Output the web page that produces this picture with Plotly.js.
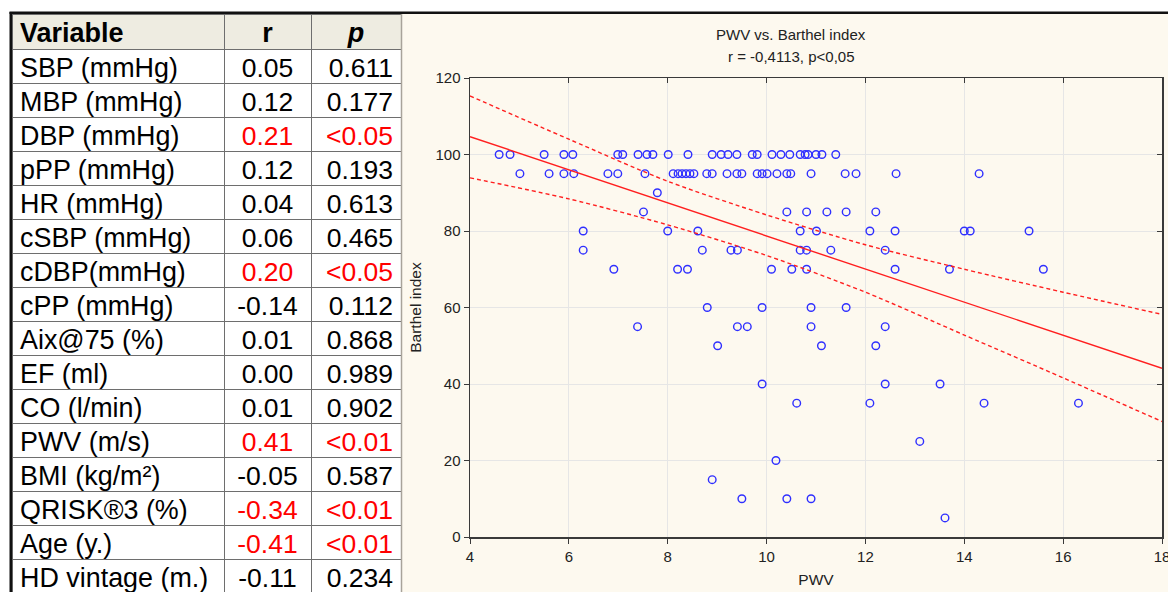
<!DOCTYPE html>
<html><head><meta charset="utf-8">
<script src="https://cdn.plot.ly/plotly-3.0.1.min.js"></script>
<style>html,body{margin:0;padding:0;overflow:hidden;background:#fff}</style>
</head><body><div id="chart" style="width:1168px;height:600px"></div>
<script>
// ---------- table data ----------
const headers = ['Variable', 'r', 'p'];
const variables = ['SBP (mmHg)','MBP (mmHg)','DBP (mmHg)','pPP (mmHg)','HR (mmHg)','cSBP (mmHg)','cDBP(mmHg)','cPP (mmHg)','Aix@75 (%)','EF (ml)','CO (l/min)','PWV (m/s)','BMI (kg/m²)','QRISK®3 (%)','Age (y.)','HD vintage (m.)'];
const rValues = ['0.05','0.12','0.21','0.12','0.04','0.06','0.20','-0.14','0.01','0.00','0.01','0.41','-0.05','-0.34','-0.41','-0.11'];
const pValues = ['0.611','0.177','<0.05','0.193','0.613','0.465','<0.05','0.112','0.868','0.989','0.902','<0.01','0.587','<0.01','<0.01','0.234'];

// ---------- scatter data (PWV vs Barthel index) ----------
const pwv = [
  4.59,4.81,5.50,5.90,6.08,6.99,7.09,7.40,7.58,7.70,8.01,8.41,8.90,9.08,9.22,9.40,9.71,9.81,10.11,10.29,10.47,10.68,10.78,10.84,11.00,11.12,11.40,
  5.01,5.60,5.90,6.10,6.79,6.99,7.54,8.11,8.21,8.29,8.37,8.45,8.53,8.79,8.90,9.20,9.40,9.50,9.81,9.91,10.01,10.21,10.41,10.49,10.90,11.59,11.81,12.62,14.30,
  7.79,
  7.51,10.41,10.81,11.22,11.61,12.21,
  6.29,8.00,8.61,10.68,11.01,12.09,12.60,14.00,14.12,15.31,
  6.29,8.70,9.28,9.41,10.68,10.81,11.30,12.40,
  6.91,8.20,8.40,10.10,10.51,10.81,12.60,13.70,15.60,
  8.80,9.91,10.90,11.61,
  7.39,9.41,9.61,10.90,12.40,
  9.01,11.11,12.21,
  9.91,12.40,13.51,
  10.61,12.09,14.40,16.31,
  13.10,
  10.19,
  8.90,
  9.50,10.41,10.90,
  13.61
];
const barthel = [
  100,100,100,100,100,100,100,100,100,100,100,100,100,100,100,100,100,100,100,100,100,100,100,100,100,100,100,
  95,95,95,95,95,95,95,95,95,95,95,95,95,95,95,95,95,95,95,95,95,95,95,95,95,95,95,95,95,
  90,
  85,85,85,85,85,85,
  80,80,80,80,80,80,80,80,80,80,
  75,75,75,75,75,75,75,75,
  70,70,70,70,70,70,70,70,70,
  60,60,60,60,
  55,55,55,55,55,
  50,50,50,
  40,40,40,
  35,35,35,35,
  25,
  20,
  15,
  10,10,10,
  5
];
// regression line and 95% confidence band
const fitX = [4, 18];
const fitY = [104.65, 44.1];
const bandX = [4, 6, 8, 10, 12, 14, 16, 18];
const bandUpper = [115.3, 104.0, 93.0, 84.2, 76.4, 70.0, 64.0, 58.2];
const bandLower = [93.9, 88.4, 81.6, 73.6, 64.0, 52.8, 41.6, 30.2];

const titleLine1 = 'PWV vs. Barthel index';
const titleLine2 = 'r = -0,4113, p&lt;0,05';

// ---------- layout helpers ----------
const W = 1168, H = 600;
const fx = p => p / W;
const fy = p => 1 - p / H;
const FONT = 'Liberation Sans, Arial, sans-serif';
const RED = '#ff1f1f';

const isSig = pValues.map(p => p.startsWith('<'));
const colBlack = variables.map(() => '#000');
const colSig = isSig.map(s => s ? '#ff0000' : '#000');
// a leading "<" is passed as a prefix so the table does not treat it as markup
const splitLt = arr => arr.map(s => s.startsWith('<') ? ['<', s.slice(1)] : ['', s]);
const pSplit = splitLt(pValues);
const noPrefix = variables.map(() => '');

const table = {
  type: 'table',
  domain: {x: [fx(12), fx(401)], y: [fy(596), fy(14)]},
  columnwidth: [212, 87, 90],
  header: {
    values: headers,
    align: ['left', 'center', 'center'],
    fill: {color: '#eeece1'},
    font: {family: FONT, size: 27, color: '#000', weight: 'bold', style: ['normal', 'normal', 'italic']},
    line: {color: '#6e6e6e', width: 1},
    height: 35.3
  },
  cells: {
    values: [variables, rValues, pSplit.map(d => d[1])],
    prefix: [noPrefix, noPrefix, pSplit.map(d => d[0])],
    align: ['left', 'center', 'right'],
    fill: {color: '#ffffff'},
    font: {family: FONT, size: [26.9, 26.5, 26.5], color: [colBlack, colSig, colSig]},
    line: {color: '#6e6e6e', width: 1},
    height: 34
  }
};

const scatter = {
  type: 'scatter', mode: 'markers', x: pwv, y: barthel,
  xaxis: 'x', yaxis: 'y', showlegend: false, hoverinfo: 'x+y',
  marker: {symbol: 'circle-open', size: 7.6, color: '#2f2fff', line: {width: 1.4, color: '#2f2fff'}}
};
const fitLine = {
  type: 'scatter', mode: 'lines', x: fitX, y: fitY, showlegend: false, hoverinfo: 'skip',
  line: {color: RED, width: 1.4}
};
const upper = {
  type: 'scatter', mode: 'lines', x: bandX, y: bandUpper, showlegend: false, hoverinfo: 'skip',
  line: {color: RED, width: 1.4, dash: '4px,3px', shape: 'spline', smoothing: 0.8}
};
const lower = {
  type: 'scatter', mode: 'lines', x: bandX, y: bandLower, showlegend: false, hoverinfo: 'skip',
  line: {color: RED, width: 1.4, dash: '4px,3px', shape: 'spline', smoothing: 0.8}
};
const frameDummy = {type: 'scatter', mode: 'markers', x: [], y: [], xaxis: 'x2', yaxis: 'y2', showlegend: false, hoverinfo: 'skip'};

const axisCommon = {
  showline: true, linecolor: '#3a3a3a', linewidth: 1.5,
  tickcolor: '#3a3a3a', tickwidth: 1, ticklen: 5,
  zeroline: false, fixedrange: true
};

const layout = {
  width: W, height: H,
  margin: {l: 0, r: 0, t: 0, b: 0},
  paper_bgcolor: '#ffffff', plot_bgcolor: '#ffffff',
  font: {family: FONT, color: '#222'},
  showlegend: false,
  xaxis: Object.assign({}, axisCommon, {
    domain: [fx(470), fx(1162)], range: [4, 18], tick0: 4, dtick: 2,
    ticks: 'outside', showgrid: true, gridcolor: '#e6e6e6', gridwidth: 1,
    ticklabeloverflow: 'allow',
    tickfont: {size: 15, color: '#222', family: FONT}, anchor: 'y',
    title: {text: 'PWV', font: {size: 15.5, color: '#222', family: FONT}, standoff: 10}
  }),
  yaxis: Object.assign({}, axisCommon, {
    domain: [fy(537), fy(78)], range: [0, 120], tick0: 0, dtick: 20,
    ticks: 'outside', showgrid: true, gridcolor: '#e6e6e6', gridwidth: 1,
    ticklabeloverflow: 'allow',
    tickfont: {size: 15, color: '#222', family: FONT}, anchor: 'x',
    title: {text: 'Barthel index', font: {size: 15.5, color: '#222', family: FONT}, standoff: 10}
  }),
  xaxis2: Object.assign({}, axisCommon, {
    overlaying: 'x', side: 'top', anchor: 'y2', range: [4, 18], tick0: 4, dtick: 2,
    ticks: 'inside', showticklabels: false, showgrid: false
  }),
  yaxis2: Object.assign({}, axisCommon, {
    overlaying: 'y', side: 'right', anchor: 'x2', range: [0, 120], tick0: 0, dtick: 20,
    ticks: 'inside', showticklabels: false, showgrid: false
  }),
  shapes: [
    {type: 'rect', xref: 'paper', yref: 'paper', x0: fx(401), x1: 1, y0: 0, y1: fy(14),
     fillcolor: '#fdf9ef', line: {width: 0}, layer: 'below'},
    {type: 'line', xref: 'paper', yref: 'paper', x0: fx(401.5), x1: fx(401.5), y0: 0, y1: fy(14),
     line: {color: '#a8a39a', width: 1.5}},
    {type: 'line', xref: 'paper', yref: 'paper', x0: fx(9.5), x1: 1, y0: fy(12.8), y1: fy(12.8),
     line: {color: '#111', width: 2.6}},
    {type: 'line', xref: 'paper', yref: 'paper', x0: fx(10.8), x1: fx(10.8), y0: 0, y1: fy(12),
     line: {color: '#111', width: 2.6}}
  ],
  annotations: [
    {xref: 'paper', yref: 'paper', x: fx(790.5), y: fy(34.5), text: titleLine1, showarrow: false,
     xanchor: 'center', yanchor: 'middle', font: {size: 15, color: '#222', family: FONT}},
    {xref: 'paper', yref: 'paper', x: fx(790.5), y: fy(56.5), text: titleLine2, showarrow: false,
     xanchor: 'center', yanchor: 'middle', font: {size: 15, color: '#222', family: FONT}}
  ]
};

Plotly.newPlot('chart', [scatter, fitLine, upper, lower, frameDummy, table], layout, {displayModeBar: false, staticPlot: true});
</script>
</body></html>
